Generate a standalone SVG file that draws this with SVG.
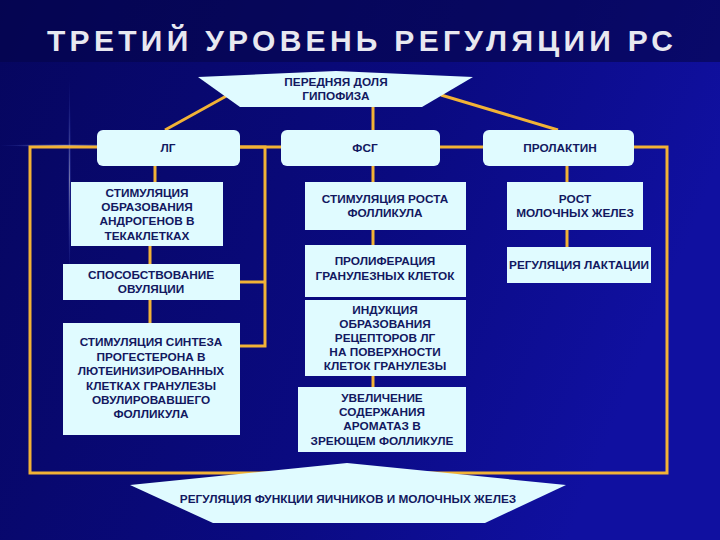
<svg xmlns="http://www.w3.org/2000/svg" width="720" height="540" viewBox="0 0 720 540">
<defs>
<linearGradient id="bg" x1="0" y1="0" x2="1" y2="0.3">
<stop offset="0" stop-color="#06065e"/><stop offset="0.6" stop-color="#0a0a80"/><stop offset="1" stop-color="#1010a0"/>
</linearGradient>
<radialGradient id="fl" cx="0.5" cy="0.5" r="0.5">
<stop offset="0" stop-color="#ffffff" stop-opacity="0.9"/><stop offset="1" stop-color="#4060ff" stop-opacity="0"/>
</radialGradient>
<style>
.b{fill:#e0fbff}
.t{font-family:"Liberation Sans",Arial,sans-serif;font-weight:bold;font-size:11.8px;fill:#121860;text-anchor:middle}
.c{stroke:#f2b236;stroke-width:3;fill:none}
</style>
</defs>
<rect width="720" height="540" fill="url(#bg)"/>
<rect x="0" y="0" width="720" height="62" fill="#05054a" opacity="0.6"/>
<rect x="0" y="144" width="130" height="3" fill="url(#fl)" opacity="0.6"/>
<rect x="68" y="80" width="3" height="200" fill="url(#fl)" opacity="0.5"/>
<text x="360" y="51" font-family="Liberation Sans,Arial,sans-serif" font-weight="bold" font-size="30" fill="#e8e8f0" text-anchor="middle" textLength="626" lengthAdjust="spacing">ТРЕТИЙ УРОВЕНЬ РЕГУЛЯЦИИ  РС</text>
<g id="connectors" class="c">
<path d="M97 147H30V473H667V147H634"/>
<path d="M240 147H281M440 147H483"/>
<path d="M230 94L165 130M441 95L558 130M373 107V130"/>
<path d="M155 166V182M150 246V264M150 300V323"/>
<path d="M240 147H265V346H240M240 282H265"/>
<path d="M373 166V182M373 230V245M373 300V300M373 376V387"/>
<path d="M567 166V182M567 230V247"/>
</g>
<g id="top"><polygon class="b" points="198,77 336,71 473,77 422,107 240,107"/><text class="t" x="336" y="86">ПЕРЕДНЯЯ ДОЛЯ</text><text class="t" x="336" y="100">ГИПОФИЗА</text></g>
<g id="lg"><rect class="b" x="97" y="130" width="143" height="36" rx="6"/><text class="t" x="168" y="152">ЛГ</text></g>
<g id="fsg"><rect class="b" x="281" y="130" width="159" height="36" rx="6"/><text class="t" x="365" y="152">ФСГ</text></g>
<g id="prl"><rect class="b" x="483" y="130" width="151" height="36" rx="6"/><text class="t" x="560" y="152">ПРОЛАКТИН</text></g>
<g id="l1"><rect class="b" x="71" y="182" width="152" height="64"/><text class="t" x="147" y="197">СТИМУЛЯЦИЯ</text><text class="t" x="147" y="211">ОБРАЗОВАНИЯ</text><text class="t" x="147" y="225">АНДРОГЕНОВ В</text><text class="t" x="147" y="240">ТЕКАКЛЕТКАХ</text></g>
<g id="l2"><rect class="b" x="63" y="264" width="177" height="36"/><text class="t" x="151" y="279">СПОСОБСТВОВАНИЕ</text><text class="t" x="151" y="293">ОВУЛЯЦИИ</text></g>
<g id="l3"><rect class="b" x="63" y="323" width="177" height="112"/><text class="t" x="151" y="346">СТИМУЛЯЦИЯ СИНТЕЗА</text><text class="t" x="151" y="361">ПРОГЕСТЕРОНА В</text><text class="t" x="151" y="375">ЛЮТЕИНИЗИРОВАННЫХ</text><text class="t" x="151" y="390">КЛЕТКАХ ГРАНУЛЕЗЫ</text><text class="t" x="151" y="404">ОВУЛИРОВАВШЕГО</text><text class="t" x="151" y="418">ФОЛЛИКУЛА</text></g>
<g id="m1"><rect class="b" x="305" y="182" width="161" height="48"/><text class="t" x="385" y="203">СТИМУЛЯЦИЯ РОСТА</text><text class="t" x="385" y="217">ФОЛЛИКУЛА</text></g>
<g id="m2"><rect class="b" x="305" y="245" width="161" height="52"/><text class="t" x="385" y="265">ПРОЛИФЕРАЦИЯ</text><text class="t" x="385" y="280">ГРАНУЛЕЗНЫХ КЛЕТОК</text></g>
<g id="m3"><rect class="b" x="305" y="300" width="161" height="76"/><text class="t" x="385" y="314">ИНДУКЦИЯ</text><text class="t" x="385" y="328">ОБРАЗОВАНИЯ</text><text class="t" x="385" y="342">РЕЦЕПТОРОВ ЛГ</text><text class="t" x="385" y="356">НА ПОВЕРХНОСТИ</text><text class="t" x="385" y="370">КЛЕТОК ГРАНУЛЕЗЫ</text></g>
<g id="m4"><rect class="b" x="298" y="387" width="168" height="65"/><text class="t" x="382" y="402">УВЕЛИЧЕНИЕ</text><text class="t" x="382" y="416">СОДЕРЖАНИЯ</text><text class="t" x="382" y="430">АРОМАТАЗ В</text><text class="t" x="382" y="445">ЗРЕЮЩЕМ ФОЛЛИКУЛЕ</text></g>
<g id="r1"><rect class="b" x="507" y="182" width="136" height="48"/><text class="t" x="575" y="203">РОСТ</text><text class="t" x="575" y="217">МОЛОЧНЫХ ЖЕЛЕЗ</text></g>
<g id="r2"><rect class="b" x="507" y="247" width="144" height="36"/><text class="t" x="579" y="269">РЕГУЛЯЦИЯ ЛАКТАЦИИ</text></g>
<g id="bottom"><polygon class="b" points="130,485 347,463 566,485 485,523 213,523"/><text class="t" x="348" y="503">РЕГУЛЯЦИЯ ФУНКЦИИ ЯИЧНИКОВ И МОЛОЧНЫХ ЖЕЛЕЗ</text></g>
</svg>
